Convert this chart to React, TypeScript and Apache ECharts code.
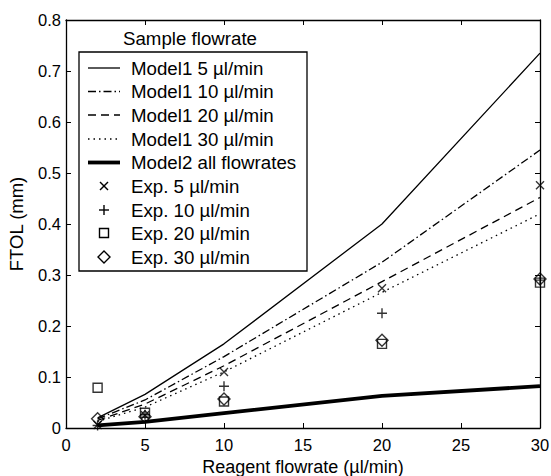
import React, { useEffect, useRef } from "react";
import * as echarts from "echarts";

const flowrates = [2, 5, 10, 20, 30];
const model1_5 = [0.02, 0.066, 0.165, 0.4, 0.735];
const model1_10 = [0.018, 0.055, 0.14, 0.325, 0.545];
const model1_20 = [0.015, 0.047, 0.122, 0.287, 0.452];
const model1_30 = [0.013, 0.041, 0.11, 0.266, 0.42];
const model2 = [0.005, 0.012, 0.029, 0.063, 0.082];
const exp5 = [0.006, 0.025, 0.11, 0.274, 0.476];
const exp10 = [0.005, 0.026, 0.082, 0.225, 0.29];
const exp20 = [0.079, 0.03, 0.052, 0.165, 0.285];
const exp30 = [0.018, 0.022, 0.057, 0.172, 0.292];

const xTicks = [0, 5, 10, 15, 20, 25, 30];
const yTicks = [0, 0.1, 0.2, 0.3, 0.4, 0.5, 0.6, 0.7, 0.8];

const legendTitle = "Sample flowrate";
const legendNames = [
  "Model1 5 \u00b5l/min",
  "Model1 10 \u00b5l/min",
  "Model1 20 \u00b5l/min",
  "Model1 30 \u00b5l/min",
  "Model2 all flowrates",
  "Exp. 5 \u00b5l/min",
  "Exp. 10 \u00b5l/min",
  "Exp. 20 \u00b5l/min",
  "Exp. 30 \u00b5l/min",
];

const FONT = "'Liberation Sans', Arial, Helvetica, sans-serif";
const CROSS = "path://M0,0L10,10M10,0L0,10";
const PLUS = "path://M5,0L5,10M0,5L10,5";

const pairs = (ys: number[]) => flowrates.map((x, i) => [x, ys[i]]);

export default function App() {
  const ref = useRef<HTMLDivElement>(null);
  useEffect(() => {
    if (!ref.current) return;
    const chart = echarts.init(ref.current, undefined, { renderer: "svg" });
    const axisCommon = {
      type: "value" as const,
      axisLine: { show: true, onZero: false, lineStyle: { color: "#000", width: 1.3 } },
      axisTick: { show: true, inside: true, length: 5, lineStyle: { color: "#000", width: 1 } },
      splitLine: { show: false },
    };
    const lineSeries = (name: string, ys: number[], type: any, width: number) => ({
      name,
      type: "line",
      data: pairs(ys),
      symbol: "none",
      lineStyle: { color: "#000", width, type },
      z: 2,
    });
    const scatterSeries = (name: string, ys: number[], symbol: string, size: number) => ({
      name,
      type: "scatter",
      data: pairs(ys),
      symbol,
      symbolSize: size,
      itemStyle: { color: "rgba(0,0,0,0)", borderColor: "#000", borderWidth: 1.4 },
      z: 3,
    });

    // legend geometry
    const lx = 79, ly = 52, lw = 228, lh = 219;
    const rowY = [68, 91.5, 115, 139, 162.5, 186, 210, 233, 257];
    const lineDashes: any[] = [null, [8, 3, 1.5, 3], [8, 5], [1.5, 4], null];
    const LFONT = `18.7px ${FONT}`;
    const graphics: any[] = [
      {
        type: "rect",
        shape: { x: lx, y: ly, width: lw, height: lh },
        style: { fill: "#fff", stroke: "#000", lineWidth: 1.3 },
        z: 10,
      },
      {
        type: "text",
        x: 190,
        y: 38,
        style: {
          text: legendTitle,
          font: LFONT,
          fill: "#000",
          align: "center",
          verticalAlign: "middle",
        },
        z: 11,
      },
    ];
    legendNames.forEach((name, i) => {
      graphics.push({
        type: "text",
        x: 131,
        y: rowY[i],
        style: {
          text: name,
          font: LFONT,
          fill: "#000",
          align: "left",
          verticalAlign: "middle",
        },
        z: 11,
      });
      if (i < 5) {
        graphics.push({
          type: "line",
          shape: { x1: 88, y1: rowY[i], x2: 120, y2: rowY[i] },
          style: {
            stroke: "#000",
            lineWidth: i === 4 ? 3.8 : 1.3,
            lineDash: lineDashes[i] || undefined,
          },
          z: 11,
        });
      }
    });
    const mx = 104;
    graphics.push({
      type: "polyline",
      shape: { points: [[mx - 4, rowY[5] - 4], [mx + 4, rowY[5] + 4]] },
      style: { stroke: "#000", lineWidth: 1.4 },
      z: 11,
    });
    graphics.push({
      type: "polyline",
      shape: { points: [[mx + 4, rowY[5] - 4], [mx - 4, rowY[5] + 4]] },
      style: { stroke: "#000", lineWidth: 1.4 },
      z: 11,
    });
    graphics.push({
      type: "line",
      shape: { x1: mx - 5, y1: rowY[6], x2: mx + 5, y2: rowY[6] },
      style: { stroke: "#000", lineWidth: 1.4 },
      z: 11,
    });
    graphics.push({
      type: "line",
      shape: { x1: mx, y1: rowY[6] - 5, x2: mx, y2: rowY[6] + 5 },
      style: { stroke: "#000", lineWidth: 1.4 },
      z: 11,
    });
    graphics.push({
      type: "rect",
      shape: { x: mx - 4.5, y: rowY[7] - 4.5, width: 9, height: 9 },
      style: { fill: "none", stroke: "#000", lineWidth: 1.4 },
      z: 11,
    });
    graphics.push({
      type: "polygon",
      shape: {
        points: [
          [mx, rowY[8] - 6],
          [mx + 6, rowY[8]],
          [mx, rowY[8] + 6],
          [mx - 6, rowY[8]],
        ],
      },
      style: { fill: "none", stroke: "#000", lineWidth: 1.4 },
      z: 11,
    });

    chart.setOption({
      animation: false,
      backgroundColor: "#fff",
      textStyle: { fontFamily: FONT },
      grid: {
        left: 66,
        top: 20,
        right: 11,
        bottom: 48,
        containLabel: false,
        outerBoundsMode: "none",
      },
      xAxis: [
        {
          ...axisCommon,
          position: "bottom",
          min: xTicks[0],
          max: xTicks[xTicks.length - 1],
          interval: 5,
          name: "Reagent flowrate (\u00b5l/min)",
          nameLocation: "middle",
          nameGap: 26,
          nameTextStyle: { fontSize: 18, color: "#000", fontFamily: FONT },
          axisLabel: { fontSize: 16.5, color: "#000", margin: 8, fontFamily: FONT },
        },
        {
          ...axisCommon,
          position: "top",
          min: xTicks[0],
          max: xTicks[xTicks.length - 1],
          interval: 5,
          axisLabel: { show: false },
        },
      ],
      yAxis: [
        {
          ...axisCommon,
          position: "left",
          min: yTicks[0],
          max: yTicks[yTicks.length - 1],
          interval: 0.1,
          name: "FTOL (mm)",
          nameLocation: "middle",
          nameGap: 40,
          nameRotate: 90,
          nameTextStyle: { fontSize: 18.5, color: "#000", fontFamily: FONT },
          axisLabel: {
            fontSize: 16.5,
            color: "#000",
            margin: 5,
            fontFamily: FONT,
            formatter: (v: number) => (v === 0 ? "0" : v.toFixed(1)),
          },
        },
        {
          ...axisCommon,
          position: "right",
          min: yTicks[0],
          max: yTicks[yTicks.length - 1],
          interval: 0.1,
          axisLabel: { show: false },
        },
      ],
      series: [
        lineSeries(legendNames[0], model1_5, "solid", 1.3),
        lineSeries(legendNames[1], model1_10, [8, 3, 1.5, 3], 1.3),
        lineSeries(legendNames[2], model1_20, [8, 5], 1.3),
        lineSeries(legendNames[3], model1_30, [1.5, 4], 1.3),
        lineSeries(legendNames[4], model2, "solid", 3.8),
        scatterSeries(legendNames[5], exp5, CROSS, 8),
        scatterSeries(legendNames[6], exp10, PLUS, 10),
        scatterSeries(legendNames[7], exp20, "rect", 9),
        scatterSeries(legendNames[8], exp30, "diamond", 12),
      ],
      graphic: graphics,
    });
    return () => chart.dispose();
  }, []);
  return (
    <div
      ref={ref}
      style={{ position: "fixed", left: 0, top: 0, width: 551, height: 476 }}
    />
  );
}
